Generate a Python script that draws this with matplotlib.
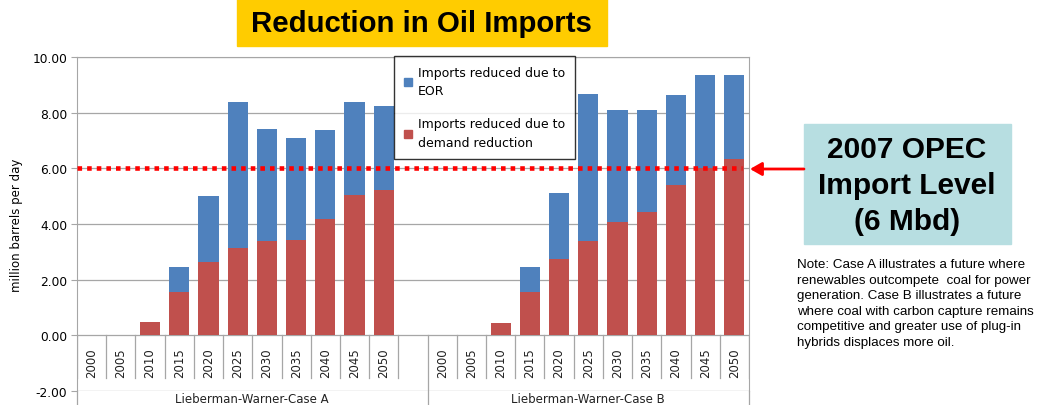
import numpy as np
import matplotlib
matplotlib.use('Agg')
import matplotlib.pyplot as plt
from matplotlib.patches import Patch, Rectangle

years = ['2000', '2005', '2010', '2015', '2020', '2025', '2030', '2035', '2040', '2045', '2050']
groups = ['Lieberman-Warner-Case A', 'Lieberman-Warner-Case B']

# million barrels per day
demand_a = [0, 0, 0.47, 1.55, 2.63, 3.13, 3.39, 3.42, 4.18, 5.05, 5.22]
eor_a = [0, 0, 0, 0.90, 2.37, 5.25, 4.02, 3.67, 3.19, 3.33, 3.02]
demand_b = [0, 0, 0.43, 1.55, 2.75, 3.39, 4.06, 4.42, 5.41, 6.00, 6.34]
eor_b = [0, 0, 0, 0.90, 2.36, 5.28, 4.03, 3.67, 3.22, 3.35, 3.01]

opec_level = 6.0

blue = '#4F81BD'
red = '#C0504D'
grid = '#A6A6A6'

W, H = 1037, 406
fig = plt.figure(figsize=(W / 100, H / 100), dpi=100)


def fx(px):
    return px / W


def fy(py):
    return 1 - py / H


ax = fig.add_axes([fx(77), fy(392), fx(749) - fx(77), fy(58) - fy(392)])

n = len(years)
pos_a = np.arange(n)
pos_b = np.arange(n) + n + 1
demand = np.concatenate([demand_a, demand_b])
eor = np.concatenate([eor_a, eor_b])
pos = np.concatenate([pos_a, pos_b])

ax.bar(pos, demand, width=0.69, color=red, zorder=3)
ax.bar(pos, eor, bottom=demand, width=0.69, color=blue, zorder=3)

ax.set_xlim(-0.5, 2 * n + 0.5)
ax.set_ylim(-2, 10)
ax.set_yticks(np.arange(-2, 10.1, 2))
ax.set_yticklabels(['%.2f' % v for v in np.arange(-2, 10.1, 2)], fontsize=8.8)
ax.set_xticks([])
for v in np.arange(-2, 10.1, 2):
    ax.axhline(v, color=grid, lw=0.9, zorder=1)
ax.tick_params(axis='y', direction='out', length=4, color=grid, pad=3)
for s in ['left', 'right', 'top']:
    ax.spines[s].set_color(grid)
ax.spines['bottom'].set_visible(False)
ax.set_ylabel('million barrels per day', fontsize=8.5, labelpad=7)

# OPEC line
ax.axhline(opec_level, xmin=0, xmax=0.99, color='#FF0000', lw=3.3, dashes=(1, 1.1), zorder=5)

# category labels and separators
for p, y in zip(list(pos_a) + list(pos_b), years + years):
    ax.text(p, -0.42, y, rotation=90, ha='center', va='top', fontsize=8.5, color='#222222')
for b in np.arange(-0.5, 2 * n + 1, 1.0):
    if b == n + 0.5:
        ax.plot([b, b], [0, -2.6], color=grid, lw=0.9, clip_on=False, zorder=2)
    else:
        ax.plot([b, b], [0, -1.52], color=grid, lw=0.9, zorder=2)
ax.plot([-0.5, -0.5], [-2, -2.6], color=grid, lw=0.9, clip_on=False)
ax.plot([2 * n + 0.5, 2 * n + 0.5], [-2, -2.6], color=grid, lw=0.9, clip_on=False)
ax.text(5.5, -2.28, groups[0], ha='center', va='center', fontsize=8.5, color='#222222', clip_on=False)
ax.text(17.0, -2.28, groups[1], ha='center', va='center', fontsize=8.5, color='#222222', clip_on=False)

# legend
handles = [Patch(color=blue, label='Imports reduced due to\nEOR'),
           Patch(color=red, label='Imports reduced due to\ndemand reduction')]
leg = ax.legend(handles=handles, loc='upper left', bbox_to_anchor=(0.472, 1.003),
                fontsize=9.0, frameon=True, fancybox=False, labelspacing=1.6,
                handlelength=0.6, handleheight=0.6, handletextpad=0.5,
                borderpad=0.8, borderaxespad=0)
for t in leg.get_texts():
    t.set_linespacing(1.55)
leg.get_frame().set_edgecolor('black')
leg.get_frame().set_linewidth(1.0)
leg.set_zorder(6)

# title
fig.patches.append(Rectangle((fx(237), fy(47)), fx(607) - fx(237), fy(0) - fy(47),
                             transform=fig.transFigure, color='#FFCC00', zorder=0))
fig.text(fx(421), fy(24), 'Reduction in Oil Imports', ha='center', va='center',
         fontsize=21.2, fontweight='bold', family='Liberation Sans')

# OPEC box and arrow
fig.patches.append(Rectangle((fx(804), fy(245)), fx(1011) - fx(804), fy(125) - fy(245),
                             transform=fig.transFigure, color='#B7DEE1', zorder=0))
fig.text(fx(907), fy(186), '2007 OPEC\nImport Level\n(6 Mbd)', ha='center', va='center',
         fontsize=21.5, fontweight='bold', family='Liberation Sans', linespacing=1.36)
fig.add_artist(matplotlib.patches.FancyArrowPatch(
    (fx(804), fy(170)), (fx(750), fy(170)), transform=fig.transFigure,
    arrowstyle='-|>,head_length=7,head_width=4', color='#FF0000', lw=2, shrinkA=0, shrinkB=0))

note = ('Note: Case A illustrates a future where\n'
        'renewables outcompete  coal for power\n'
        'generation. Case B illustrates a future\n'
        'where coal with carbon capture remains\n'
        'competitive and greater use of plug-in\n'
        'hybrids displaces more oil.')
fig.text(fx(797), fy(259), note, ha='left', va='top', fontsize=9.6,
         family='Liberation Sans', linespacing=1.4)

plt.savefig('out.png', dpi=100)
